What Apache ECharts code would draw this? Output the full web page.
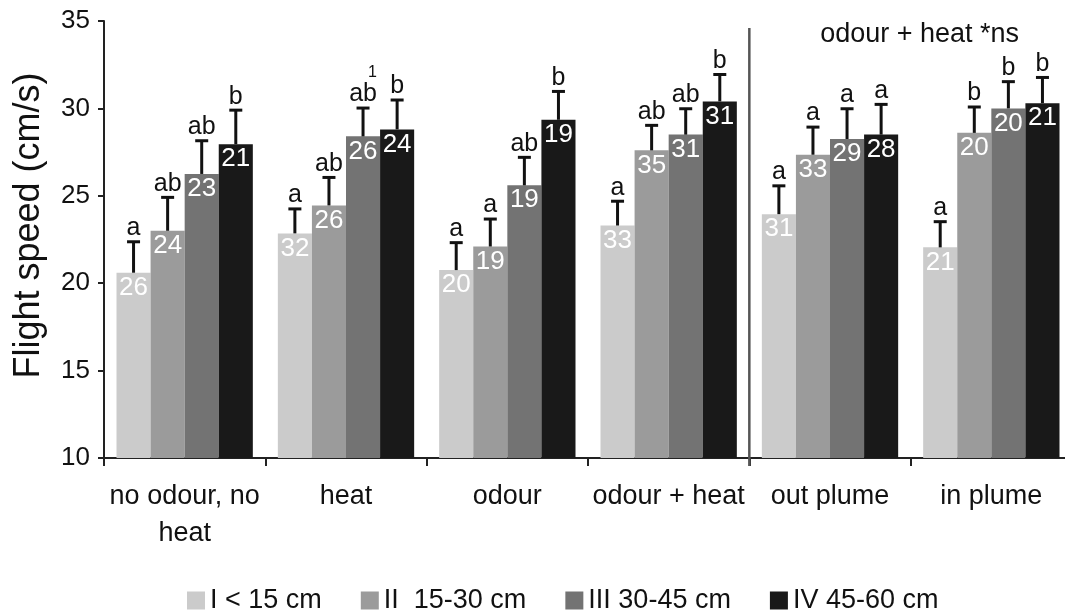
<!DOCTYPE html>
<html>
<head>
<meta charset="utf-8">
<script src="https://cdn.jsdelivr.net/npm/echarts@6/dist/echarts.min.js"></script>
<style>
html,body{margin:0;padding:0;background:#fff;}
#chart{width:1065px;height:612px;}
</style>
</head>
<body>
<div id="chart"></div>
<script>
// ---- data ----
const categories = ['no odour, no\nheat', 'heat', 'odour', 'odour + heat', 'out plume', 'in plume'];
const seriesNames = ['I < 15 cm', 'II  15-30 cm', 'III 30-45 cm', 'IV 45-60 cm'];
const yTicks = [10, 15, 20, 25, 30, 35];

const meanI   = [20.6, 22.85, 20.75, 23.3, 23.95, 22.05];
const meanII  = [23.0, 24.45, 22.1, 27.6, 27.35, 28.6];
const meanIII = [26.25, 28.4, 25.6, 28.5, 28.25, 30.0];
const meanIV  = [27.95, 28.8, 29.35, 30.4, 28.5, 30.3];

const seI   = [1.77, 1.4, 1.57, 1.39, 1.62, 1.47];
const seII  = [1.91, 1.6, 1.57, 1.43, 1.58, 1.48];
const seIII = [1.9, 1.62, 1.6, 1.48, 1.73, 1.53];
const seIV  = [1.95, 1.68, 1.62, 1.54, 1.73, 1.47];

const nI   = [26, 32, 20, 33, 31, 21];
const nII  = [24, 26, 19, 35, 33, 20];
const nIII = [23, 26, 19, 31, 29, 20];
const nIV  = [21, 24, 19, 31, 28, 21];

const lettersI   = ['a', 'a', 'a', 'a', 'a', 'a'];
const lettersII  = ['ab', 'ab', 'a', 'ab', 'a', 'b'];
const lettersIII = ['ab', 'ab', 'ab', 'ab', 'a', 'b'];
const lettersIV  = ['b', 'b', 'b', 'b', 'a', 'b'];
const supIII     = ['', '1', '', '', '', ''];

const annotation = 'odour + heat *ns';
const dividerAfter = 3; // vertical line between 'odour + heat' and 'out plume'

const colors = ['#cbcbcb', '#9b9b9b', '#737373', '#191919'];
const means = [meanI, meanII, meanIII, meanIV];
const ses = [seI, seII, seIII, seIV];
const ns = [nI, nII, nIII, nIV];
const letters = [lettersI, lettersII, lettersIII, lettersIV];
const sups = [['','','','','',''], ['','','','','',''], supIII, ['','','','','','']];

const FONT = '"Liberation Sans", Arial, Helvetica, sans-serif';
const catGap = 0.155;

const barSeries = seriesNames.map((name, s) => ({
  name: name,
  type: 'bar',
  barGap: '0%',
  barCategoryGap: (catGap * 100) + '%',
  itemStyle: { color: colors[s] },
  data: means[s].map((v, i) => ({ value: v, n: ns[s][i] })),
  label: {
    show: true,
    position: 'insideTop',
    distance: 2,
    color: '#ffffff',
    fontFamily: FONT,
    fontSize: 26,
    formatter: p => String(p.data.n)
  },
  emphasis: { disabled: true },
  z: 2
}));

const errData = [];
for (let s = 0; s < 4; s++) {
  for (let i = 0; i < categories.length; i++) {
    errData.push([i, s, means[s][i], ses[s][i], letters[s][i], sups[s][i]]);
  }
}

const errSeries = {
  type: 'custom',
  name: 'err',
  data: errData,
  z: 5,
  silent: true,
  encode: { x: 0, y: 2 },
  renderItem: function (params, api) {
    const cat = api.value(0), s = api.value(1), m = api.value(2), se = api.value(3);
    const item = errData[params.dataIndex];
    const letter = item[4], sup = item[5];
    const catW = api.size([1, 0])[0];
    const groupW = catW * (1 - catGap);
    const barW = groupW / 4;
    const c = api.coord([cat, m]);
    const x = c[0] - groupW / 2 + (s + 0.5) * barW;
    const yBase = c[1];
    const yTop = api.coord([cat, m + se])[1];
    const children = [
      { type: 'line', shape: { x1: x, y1: yBase, x2: x, y2: yTop }, style: { stroke: '#111', lineWidth: 3 } },
      { type: 'line', shape: { x1: x - 6.5, y1: yTop, x2: x + 6.5, y2: yTop }, style: { stroke: '#111', lineWidth: 3 } },
      { type: 'text', x: x, y: yTop - 1, style: { text: letter, fill: '#111', font: '25px ' + FONT, align: 'center', verticalAlign: 'bottom' } }
    ];
    if (sup) {
      children.push({ type: 'text', x: x + 5, y: yTop - 27, style: { text: sup, fill: '#111', font: '16px ' + FONT, align: 'left', verticalAlign: 'bottom' } });
    }
    return { type: 'group', children: children };
  }
};

const dividerSeries = {
  type: 'custom',
  name: 'divider',
  data: [[dividerAfter, 34.6]],
  z: 6,
  silent: true,
  encode: { x: 0, y: 1 },
  renderItem: function (params, api) {
    const catW = api.size([1, 0])[0];
    const c = api.coord([api.value(0), api.value(1)]);
    const x = c[0] + catW / 2;
    const yBottom = api.coord([api.value(0), 10])[1] + 8;
    const yTopAnn = api.coord([api.value(0), 34.2])[1];
    return {
      type: 'group',
      children: [
        { type: 'line', shape: { x1: x, y1: c[1], x2: x, y2: yBottom }, style: { stroke: '#555', lineWidth: 2.5 } },
        { type: 'text', x: x + catW + 9, y: yTopAnn, style: { text: annotation, fill: '#111', font: '27px ' + FONT, align: 'center', verticalAlign: 'middle' } }
      ]
    };
  }
};

const chart = echarts.init(document.getElementById('chart'), null, { renderer: 'canvas' });
chart.setOption({
  animation: false,
  backgroundColor: '#ffffff',
  grid: { left: 104, right: -7, top: 21, bottom: 154, outerBoundsMode: 'none', containLabel: false },
  legend: {
    data: seriesNames,
    left: 187,
    top: 587,
    icon: 'rect',
    itemWidth: 18,
    itemHeight: 18,
    itemGap: 39,
    padding: 0,
    textStyle: { fontFamily: FONT, fontSize: 27, color: '#111' },
    selectedMode: false
  },
  xAxis: {
    type: 'category',
    data: categories,
    axisLine: { lineStyle: { color: '#222', width: 2 } },
    axisTick: { show: true, length: 8, lineStyle: { color: '#222', width: 2 } },
    axisLabel: { fontFamily: FONT, fontSize: 27, color: '#111', margin: 20, lineHeight: 37, interval: 0 }
  },
  yAxis: {
    type: 'value',
    min: yTicks[0],
    max: yTicks[yTicks.length - 1],
    interval: 5,
    splitLine: { show: false },
    axisLine: { show: true, lineStyle: { color: '#222', width: 2 } },
    axisTick: { show: true, length: 6, lineStyle: { color: '#222', width: 2 } },
    axisLabel: { fontFamily: FONT, fontSize: 26, color: '#111', margin: 14 },
    name: 'Flight speed (cm/s)',
    nameLocation: 'middle',
    nameGap: 57,
    nameTextStyle: { fontFamily: FONT, fontSize: 36, color: '#111', padding: [0, 0, 0, 28] }
  },
  series: barSeries.concat([errSeries, dividerSeries])
});
</script>
</body>
</html>
